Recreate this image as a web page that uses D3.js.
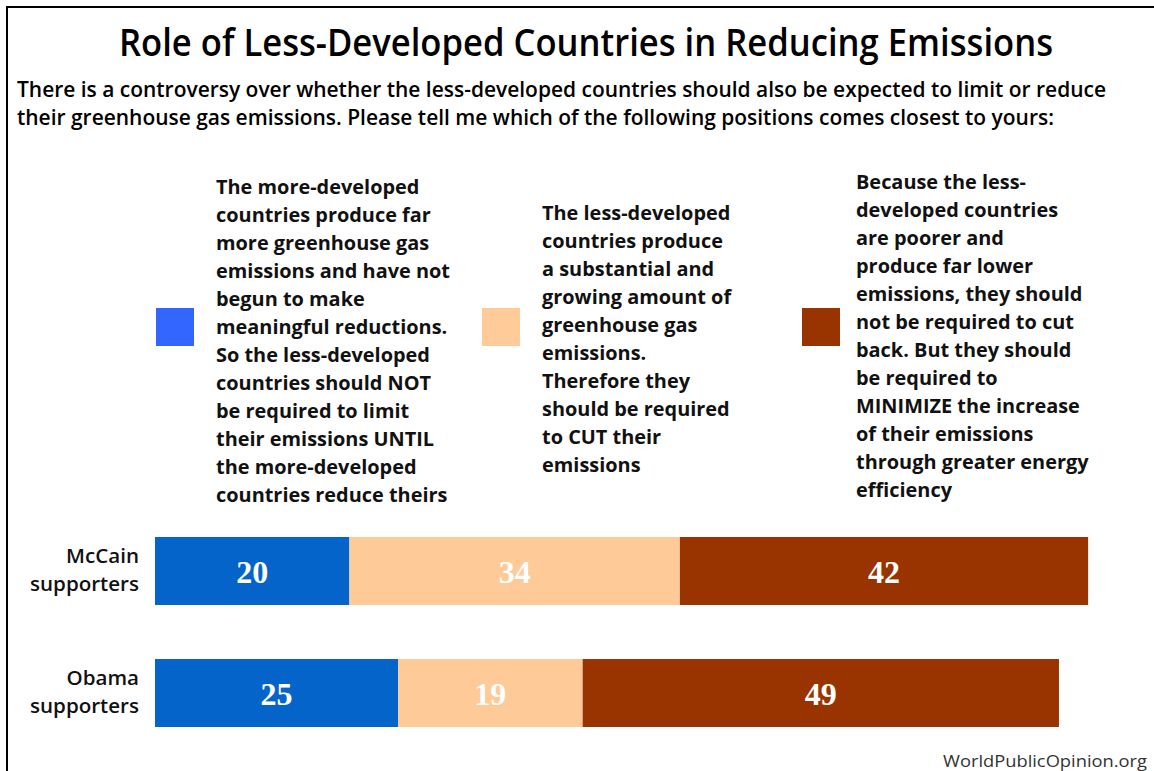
<!DOCTYPE html>
<html>
<head>
<meta charset="utf-8">
<script src="https://cdn.jsdelivr.net/npm/d3@7"></script>
<style>
  html, body { margin: 0; padding: 0; background: #fff; }
  svg { display: block; }
</style>
</head>
<body>
<svg id="chart" width="1154" height="771"></svg>
<script>
// ---------- DATA ----------
const title = "Role of Less-Developed Countries in Reducing Emissions";
const subtitleLines = [
  "There is a controversy over whether the less-developed countries should also be expected to limit or reduce",
  "their greenhouse gas emissions. Please tell me which of the following positions comes closest to yours:"
];
const categories = ["McCain supporters", "Obama supporters"];
const categoryLabelLines = [["McCain", "supporters"], ["Obama", "supporters"]];
const seriesKeys = ["notUntil", "cut", "minimize"];
const legendTexts = [
  ["The more-developed", "countries produce far", "more greenhouse gas", "emissions and have not",
   "begun to make", "meaningful reductions.", "So the less-developed", "countries should NOT",
   "be required to limit", "their emissions UNTIL", "the more-developed", "countries reduce theirs"],
  ["The less-developed", "countries produce", "a substantial and", "growing amount of",
   "greenhouse gas", "emissions.", "Therefore they", "should be required", "to CUT their", "emissions"],
  ["Because the less-", "developed countries", "are poorer and", "produce far lower",
   "emissions, they should", "not be required to cut", "back. But they should", "be required to",
   "MINIMIZE the increase", "of their emissions", "through greater energy", "efficiency"]
];
const mccainValues = [20, 34, 42];
const obamaValues = [25, 19, 49];
const source = "WorldPublicOpinion.org";

// ---------- STYLE ----------
const barColors = ["#0564c9", "#fdca98", "#993300"];
const swatchColors = ["#3366ff", "#ffcc99", "#993300"];
const sans = "'Open Sans', 'Noto Sans', 'DejaVu Sans', sans-serif";
const serif = "'Liberation Serif', 'Times New Roman', serif";

const svg = d3.select("#chart");

// frame
svg.append("rect")
  .attr("x", 7).attr("y", 7).attr("width", 1300).attr("height", 900)
  .attr("fill", "none").attr("stroke", "#000").attr("stroke-width", 2);

function fitText(sel, target) {
  const w = sel.node().getComputedTextLength();
  sel.attr("textLength", target).attr("lengthAdjust", "spacingAndGlyphs");
  return target / w;
}

// title
const t = svg.append("text")
  .attr("x", 119).attr("y", 56)
  .attr("font-family", sans).attr("font-weight", 600).attr("font-size", 38)
  .attr("fill", "#000").text(title);
fitText(t, 934);

// subtitle
const subSel = svg.selectAll("text.sub").data(subtitleLines).join("text")
  .attr("class", "sub")
  .attr("x", 17).attr("y", (d, i) => 97 + i * 28)
  .attr("font-family", sans).attr("font-weight", 600).attr("font-size", 21.5)
  .attr("fill", "#000").text(d => d);
{
  const first = d3.select(subSel.nodes()[0]);
  const f = fitText(first, 1089);
  const second = d3.select(subSel.nodes()[1]);
  second.attr("textLength", second.node().getComputedTextLength() * f)
        .attr("lengthAdjust", "spacingAndGlyphs");
}

// legend
const legendX = [216, 542, 856];
const legendFirstBaseline = [194, 220, 189];
const swatchX = [156, 482, 802];
const lineH = 28;
const legendNodes = [];
legendTexts.forEach((lines, c) => {
  svg.append("rect")
    .attr("x", swatchX[c]).attr("y", 308).attr("width", 38).attr("height", 38)
    .attr("fill", swatchColors[c]);
  const g = svg.append("g");
  g.selectAll("text").data(lines).join("text")
    .attr("x", legendX[c]).attr("y", (d, i) => legendFirstBaseline[c] + i * lineH)
    .attr("font-family", sans).attr("font-weight", 700).attr("font-size", 19.5)
    .attr("fill", "#111").text(d => d)
    .each(function () { legendNodes.push(this); });
});
{
  const ref = legendNodes.find(n => n.textContent === "emissions and have not");
  const f = 234 / ref.getComputedTextLength();
  legendNodes.forEach(n => {
    const w = n.getComputedTextLength();
    d3.select(n).attr("textLength", w * f).attr("lengthAdjust", "spacingAndGlyphs");
  });
}

// bars
const x = d3.scaleLinear().domain([0, 100]).range([155, 1127]);
const y = d3.scaleBand().domain(categories).range([537, 727]).paddingInner(0.443).paddingOuter(0);
const rows = categories.map((c, i) => {
  const vals = i === 0 ? mccainValues : obamaValues;
  const o = { category: c };
  seriesKeys.forEach((k, j) => o[k] = vals[j]);
  return o;
});
const stacked = d3.stack().keys(seriesKeys)(rows);

stacked.forEach((layer, j) => {
  const g = svg.append("g");
  g.selectAll("rect").data(layer).join("rect")
    .attr("x", d => x(d[0]))
    .attr("y", d => y(d.data.category))
    .attr("width", d => x(d[1]) - x(d[0]))
    .attr("height", y.bandwidth())
    .attr("fill", barColors[j]);
  g.selectAll("text").data(layer).join("text")
    .attr("x", d => (x(d[0]) + x(d[1])) / 2)
    .attr("y", d => y(d.data.category) + y.bandwidth() / 2 + 12)
    .attr("text-anchor", "middle")
    .attr("font-family", serif).attr("font-weight", 700).attr("font-size", 32)
    .attr("fill", "#fff")
    .text(d => d[1] - d[0]);
});

// category labels
const catNodes = [];
categories.forEach((c, i) => {
  const cy = y(c) + y.bandwidth() / 2;
  categoryLabelLines[i].forEach((ln, k) => {
    const tx = svg.append("text")
      .attr("x", 139).attr("y", cy - 8 + k * 28)
      .attr("text-anchor", "end")
      .attr("font-family", sans).attr("font-weight", 600).attr("font-size", 20)
      .attr("fill", "#111").text(ln);
    catNodes.push(tx.node());
  });
});
{
  const ref = catNodes[1];
  const f = 109 / ref.getComputedTextLength();
  catNodes.forEach(n => {
    d3.select(n).attr("textLength", n.getComputedTextLength() * f).attr("lengthAdjust", "spacingAndGlyphs");
  });
}

// source
const s = svg.append("text")
  .attr("x", 1147).attr("y", 767).attr("text-anchor", "end")
  .attr("font-family", sans).attr("font-weight", 400).attr("font-size", 17)
  .attr("fill", "#333").text(source);
fitText(s, 204);
</script>
</body>
</html>
